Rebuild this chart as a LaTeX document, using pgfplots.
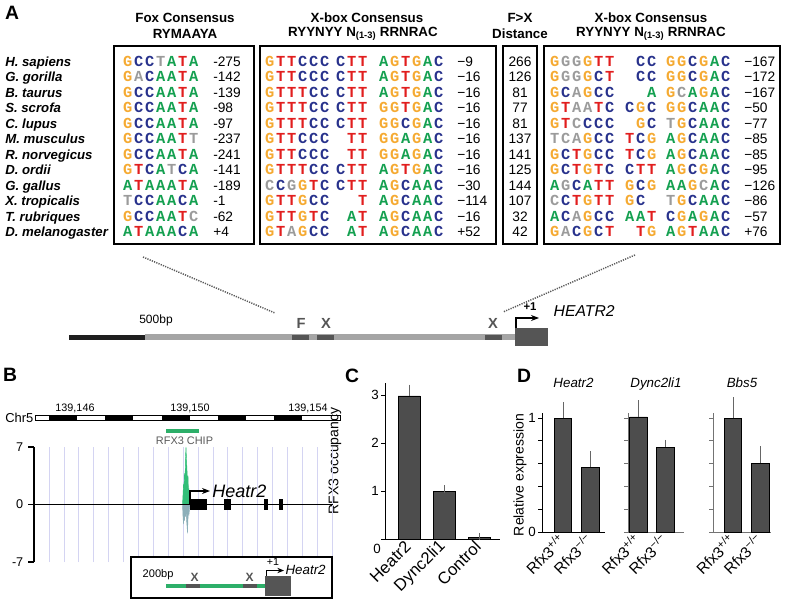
\documentclass[border=0pt]{standalone}
\usepackage{pgfplots}
\pgfplotsset{compat=1.18}
\usepackage{fontspec}
\setmainfont{Liberation Sans}
\newfontfamily\seqfont{Liberation Mono}
\usetikzlibrary{arrows.meta}

\definecolor{cA}{RGB}{20,160,80}
\definecolor{cC}{RGB}{40,50,140}
\definecolor{cG}{RGB}{245,170,50}
\definecolor{cT}{RGB}{225,30,30}
\definecolor{cN}{RGB}{155,155,155}
\definecolor{bargray}{RGB}{77,77,77}
\definecolor{chipgreen}{RGB}{50,190,120}
\definecolor{chipblue}{RGB}{140,175,185}
\definecolor{gridlav}{RGB}{212,212,242}
\definecolor{darkbox}{RGB}{85,85,85}
\definecolor{lightbar}{RGB}{165,165,165}
\definecolor{insetgreen}{RGB}{45,175,105}

\newlength\seqw \setlength\seqw{8.25pt}
\newcommand\defsq[2]{\expandafter\def\csname seqL#1\endcsname{#2}}
\defsq{A}{\textcolor{cA}{A}}
\defsq{C}{\textcolor{cC}{C}}
\defsq{G}{\textcolor{cG}{G}}
\defsq{T}{\textcolor{cT}{T}}
\defsq{a}{\textcolor{cN}{A}}
\defsq{c}{\textcolor{cN}{C}}
\defsq{g}{\textcolor{cN}{G}}
\defsq{t}{\textcolor{cN}{T}}
\defsq{x}{}
\def\sqloop#1{\ifx#1\relax\else\makebox[\seqw][c]{\csname seqL#1\endcsname}\expandafter\sqloop\fi}
\newcommand\sq[1]{{\seqfont\bfseries\fontsize{11.5}{12}\selectfont\sqloop#1\relax}}
\newcommand\sqexp[1]{\expandafter\sq\expandafter{#1}}

\pgfplotsset{
  barax/.style={anchor=south west, scale only axis,
    axis lines*=left, axis line style={-, line width=0.7pt},
    tick align=outside, major tick length=3pt,
    x tick style={draw=none},
    tick style={line width=0.6pt, black},
    x tick label style={rotate=45, anchor=east, inner sep=1pt, font=\fontsize{11.5}{12}\selectfont},
    y tick label style={font=\fontsize{10}{11}\selectfont, inner sep=1.5pt},
    /pgf/number format/assume math mode=true,
    clip=false},
  bars/.style={ybar, bar width=#1, fill=bargray, draw=black, line width=0.5pt,
    error bars/.cd, y dir=plus, y explicit,
    error bar style={black!60, line width=0.6pt},
    error mark options={black!60, line width=0.6pt, mark size=2.8pt}},
  dax/.style={barax, ymin=0, ymax=1.044, height=89.25pt,
    ytick={0,0.2,...,1}, xtick={0,1},
    xticklabels={Rfx3\textsuperscript{+/+},Rfx3\textsuperscript{−/−}},
    title style={at={(rel axis cs:0.5,1)}, anchor=base, yshift=13.5pt,
      font=\itshape\fontsize{10}{11}\selectfont}},
  grayax/.style={axis line style={black!55}, tick style={black!55}}
}

\begin{document}
\begin{tikzpicture}
\begin{scope}[x=0.75pt,y=-0.75pt]
% panel letters
\node[font=\bfseries\fontsize{14.5}{15}\selectfont] at (12,13) {A};
\node[font=\bfseries\fontsize{14.5}{15}\selectfont] at (10,375) {B};
\node[font=\bfseries\fontsize{14.5}{15}\selectfont] at (352,376) {C};
\node[font=\bfseries\fontsize{14.5}{15}\selectfont] at (524,376) {D};

% headers
\begin{scope}[every node/.style={font=\bfseries\fontsize{10}{12}\selectfont}]
\node at (185,18) {Fox Consensus};
\node at (185,34) {RYMAAYA};
\node at (367,18) {X-box Consensus};
\node at (363,34) {RYYNYY N\textsubscript{(1-3)} RRNRAC};
\node at (520,18) {F>X};
\node at (520,34) {Distance};
\node at (651,18) {X-box Consensus};
\node at (651,34) {RYYNYY N\textsubscript{(1-3)} RRNRAC};
\end{scope}

% boxes
\draw[line width=1pt] (114,46) rectangle (254,244);
\draw[line width=1pt] (260,46) rectangle (496,244);
\draw[line width=1pt] (503,46) rectangle (537,244);
\draw[line width=1.4pt] (544,46) rectangle (780,244);

% rows
\foreach [count=\i] \sp/\fox/\fn/\xa/\xb/\xc/\xn/\fx/\ya/\yb/\yc/\yn in {
 H. sapiens/GCCtATA/-275/GTTCCC/CTT/AGTGAC/−9/266/GggGTT/xCC/GGCGAC/−167,
 G. gorilla/GaCAATA/-142/GTTCCC/CTT/AGTGAC/−16/126/GggGCT/xCC/GGCGAC/−172,
 B. taurus/GCCAATA/-139/GTTTCC/CTT/AGTGAC/−16/81/GCaGCC/xxA/GcAGAC/−167,
 S. scrofa/GCCAATA/-98/GTTTCC/CTT/GGTGAC/−16/77/GTaaTC/CGC/GGCAAC/−50,
 C. lupus/GCCAATA/-97/GTTTCC/CTT/GGCGAC/−16/81/GTcCCC/xGC/tGCAAC/−77,
 M. musculus/GCCAATt/-237/GTTCCC/xTT/GGAGAC/−16/137/tcaGCC/TCG/AGCAAC/−85,
 R. norvegicus/GCCAATA/-241/GTTCCC/xTT/GGAGAC/−16/141/GCTGCC/TCG/AGCAAC/−85,
 D. ordii/GTCAtCA/-141/GTTTCC/CTT/AGTGAC/−16/125/GCTGTC/CTT/AGCGAC/−95,
 G. gallus/ATAAATA/-189/cCgGTC/CTT/AGCAAC/−30/144/AgCATT/GCG/AAGcAC/−126,
 X. tropicalis/tCCAACA/-1/GTTGCC/xxT/AGCAAC/−114/107/cCTGTT/GCx/tGCAAC/−86,
 T. rubriques/GCCAATc/-62/GTTGTC/xAT/AGCAAC/−16/32/ACaGCC/AAT/CGAGAC/−57,
 D. melanogaster/ATAAACA/+4/GTaGCC/xAT/AGCAAC/+52/42/GaCGCT/xTG/AGTAAC/+76}
{
 \pgfmathsetmacro\yy{66.5+15.45*(\i-1)}
 \node[anchor=base west, inner sep=0, font=\bfseries\itshape\fontsize{9.9}{10}\selectfont] at (5,\yy) {\sp};
 \node[anchor=base west, inner sep=0] at (122,\yy) {\sqexp{\fox}};
 \node[anchor=base west, inner sep=0, font=\fontsize{10.3}{11}\selectfont] at (213,\yy) {\fn};
 \node[anchor=base west, inner sep=0] at (264,\yy) {\sqexp{\xa}};
 \node[anchor=base west, inner sep=0] at (335,\yy) {\sqexp{\xb}};
 \node[anchor=base west, inner sep=0] at (378,\yy) {\sqexp{\xc}};
 \node[anchor=base west, inner sep=0, font=\fontsize{10.3}{11}\selectfont] at (457,\yy) {\xn};
 \node[anchor=base, inner sep=0, font=\fontsize{10.3}{11}\selectfont] at (520,\yy) {\fx};
 \node[anchor=base west, inner sep=0] at (549,\yy) {\sqexp{\ya}};
 \node[anchor=base west, inner sep=0] at (624,\yy) {\sqexp{\yb}};
 \node[anchor=base west, inner sep=0] at (665,\yy) {\sqexp{\yc}};
 \node[anchor=base west, inner sep=0, font=\fontsize{10.3}{11}\selectfont] at (744,\yy) {\yn};
}

% dotted connectors
\draw[black!65, line width=1.1pt, dash pattern=on 0.9pt off 0.9pt] (143,257) -- (275,313);
\draw[black!65, line width=1.1pt, dash pattern=on 0.9pt off 0.9pt] (635,255) -- (503,312);

% promoter diagram
\fill[black!88] (69,334.5) rectangle (145,339.5);
\fill[lightbar] (145,334) rectangle (515,340);
\fill[darkbox] (292,335) rectangle (309,340);
\fill[darkbox] (317,335) rectangle (334,340);
\fill[darkbox] (485,335) rectangle (502,340);
\fill[darkbox] (515,328) rectangle (548,346);
\draw[-{Stealth[length=6pt,width=4.5pt]}, line width=0.8pt] (516,328) -- (516,318) -- (539,318);
\node[font=\bfseries\fontsize{8.5}{9}\selectfont] at (530,307) {+1};
\node[anchor=west, font=\itshape\fontsize{11.8}{13}\selectfont] at (549,311) {HEATR2};
\node[font=\bfseries\fontsize{11}{12}\selectfont, text=darkbox] at (301,323) {F};
\node[font=\bfseries\fontsize{11}{12}\selectfont, text=darkbox] at (326,323) {X};
\node[font=\bfseries\fontsize{11}{12}\selectfont, text=darkbox] at (493,323) {X};
\node[font=\fontsize{9}{10}\selectfont] at (156,320) {500bp};

% panel B ruler
\node[anchor=east, inner sep=1pt, font=\fontsize{9.7}{10}\selectfont] at (35,418) {Chr5};
\draw[line width=0.5pt, fill=white] (35,415) rectangle (340,420.5);
\foreach \a/\b in {49/77,105/133,162/190,218/246,274/302}
  \fill[black] (\a,415) rectangle (\b,420.5);
\draw[line width=0.5pt] (35,415) rectangle (49,420.5);
\node[font=\fontsize{8.1}{9}\selectfont] at (75,408) {139,146};
\node[font=\fontsize{8.1}{9}\selectfont] at (190,408) {139,150};
\node[font=\fontsize{8.1}{9}\selectfont] at (308,408) {139,154};
\draw[insetgreen, line width=2.4pt] (166,431) -- (199,431);
\node[text=black!65, font=\fontsize{8.2}{9}\selectfont] at (184.5,440.5) {RFX3 CHIP};

% axis labels for C and D
\node[rotate=90, font=\fontsize{10.5}{12}\selectfont] at (335,461) {RFX3 occupancy};
\node[rotate=90, font=\fontsize{10.5}{12}\selectfont] at (520,475) {Relative expression};
\node[font=\fontsize{10}{11}\selectfont] at (377,549) {0};
\end{scope}

% ---------- Panel B track ----------
\begin{axis}[at={(25.5pt,-421.5pt)}, anchor=south west, scale only axis,
  width=224.25pt, height=86.25pt,
  xmin=34, xmax=333, ymin=-7, ymax=7,
  axis lines*=left, axis line style={-, line width=0.9pt}, separate axis lines,
  x axis line style={draw=none},
  xtick={49,63.9,78.8,93.7,108.6,123.5,138.4,153.3,168.2,183.1,198,212.9,227.8,242.7,257.6,272.5,287.4,302.3,317.2,332.1},
  xticklabels={}, x tick style={draw=none},
  xmajorgrids, major x grid style={gridlav, line width=0.6pt},
  ytick={-7,0,7}, tick align=outside, major tick length=4.5pt,
  y tick style={line width=0.9pt, black},
  y tick label style={font=\fontsize{9.5}{10}\selectfont},
  /pgf/number format/assume math mode=true,
  clip=false]
\addplot[fill=chipgreen, draw=chipgreen, line width=0.3pt] coordinates {
 (182.5,0) (183,1.2) (183.5,2.5) (184,2) (184.5,3.8) (185,3) (185.5,5.8) (186,7)
 (186.5,5.5) (187,4.2) (187.5,2.8) (188,3.5) (188.5,1.5) (189,1.8) (189.5,0.6) (190,0)} -- cycle;
\addplot[fill=chipblue, draw=chipblue, line width=0.3pt] coordinates {
 (182.5,0) (183,-1.5) (183.5,-2.4) (184,-1.2) (184.5,-2) (185,-0.8) (185.5,-1.5) (186,-0.6)
 (186.5,-1.8) (187,-2.6) (187.5,-3.5) (188,-1.8) (188.5,-0.8) (189,-1.2) (190,0)} -- cycle;
\addplot[black, line width=0.9pt] coordinates {(34,0) (333,0)};
\addplot[fill=black, draw=black] coordinates {(190,-0.6) (206,-0.6) (206,0.6) (190,0.6)} -- cycle;
\addplot[fill=black, draw=black] coordinates {(224,-0.6) (230,-0.6) (230,0.6) (224,0.6)} -- cycle;
\addplot[fill=black, draw=black] coordinates {(264,-0.6) (267,-0.6) (267,0.6) (264,0.6)} -- cycle;
\addplot[fill=black, draw=black] coordinates {(279,-0.6) (282,-0.6) (282,0.6) (279,0.6)} -- cycle;
\end{axis}

% ---------- Panel C ----------
\begin{axis}[barax, at={(288.75pt,-404.25pt)},
  width=86.25pt, height=117pt,
  xmin=-0.686, xmax=2.6, ymin=0, ymax=3.25,
  ytick={0,1,2,3}, yticklabels={,1,2,3}, xtick={0,1,2},
  xticklabels={Heatr2,Dync2li1,Control},
  x tick label style={font=\fontsize{12.5}{13}\selectfont}]
\addplot[bars=16.5pt] coordinates {(0,2.98) +- (0,0.16) (1,1.0) +- (0,0.04) (2,0.04) +- (0,0.01)};
\end{axis}

% ---------- Panel D ----------
\begin{axis}[dax, at={(406.5pt,-399pt)}, width=47.25pt,
  xmin=-0.764, xmax=1.527, yticklabels={0,,,,,1}, title={Heatr2}]
\addplot[bars=13.1pt] coordinates {(0,1.0) +- (0,0.105) (1,0.57) +- (0,0.105)};
\end{axis}
\begin{axis}[dax, grayax, at={(471pt,-399pt)}, width=42pt,
  xmin=-0.39, xmax=1.685, yticklabels={}, title={Dync2li1}]
\addplot[bars=13.1pt] coordinates {(0,1.01) +- (0,0.115) (1,0.745) +- (0,0.03)};
\end{axis}
\begin{axis}[dax, grayax, at={(534.75pt,-399pt)}, width=43.5pt,
  xmin=-0.727, xmax=1.38, yticklabels={}, title={Bbs5}]
\addplot[bars=13.1pt] coordinates {(0,1.0) +- (0,0.15) (1,0.605) +- (0,0.115)};
\end{axis}

% inset of panel B (drawn over the track) and gene label
\begin{scope}[x=0.75pt,y=-0.75pt]
\draw[-{Stealth[length=6pt,width=4.5pt]}, line width=0.9pt] (190,504) -- (190,491) -- (210,491);
\node[anchor=base west, inner sep=0, font=\itshape\fontsize{13.5}{14}\selectfont] at (212,497) {Heatr2};
\draw[fill=white, line width=0.8pt] (131,557) rectangle (332,598);
\node[anchor=west, font=\fontsize{8.3}{9}\selectfont] at (138,575) {200bp};
\draw[insetgreen, line width=3.5pt] (166,586) -- (265,586);
\draw[darkbox, line width=3.5pt] (186,586) -- (200,586);
\draw[darkbox, line width=3.5pt] (243,586) -- (257,586);
\node[font=\bfseries\fontsize{9}{10}\selectfont, text=darkbox] at (194.5,577) {X};
\node[font=\bfseries\fontsize{9}{10}\selectfont, text=darkbox] at (249.5,577) {X};
\fill[darkbox] (265,576) rectangle (291,596);
\draw[-{Stealth[length=5pt,width=4pt]}, line width=0.7pt] (266,576) -- (266,570.5) -- (284,570.5);
\node[font=\fontsize{8}{9}\selectfont] at (273,562) {+1};
\node[anchor=west, inner sep=1pt, font=\itshape\fontsize{10}{11}\selectfont] at (284,570) {Heatr2};
\end{scope}

\pgfresetboundingbox
\path[use as bounding box] (0pt,0pt) rectangle (589.5pt,-452.25pt);
\end{tikzpicture}
\end{document}
